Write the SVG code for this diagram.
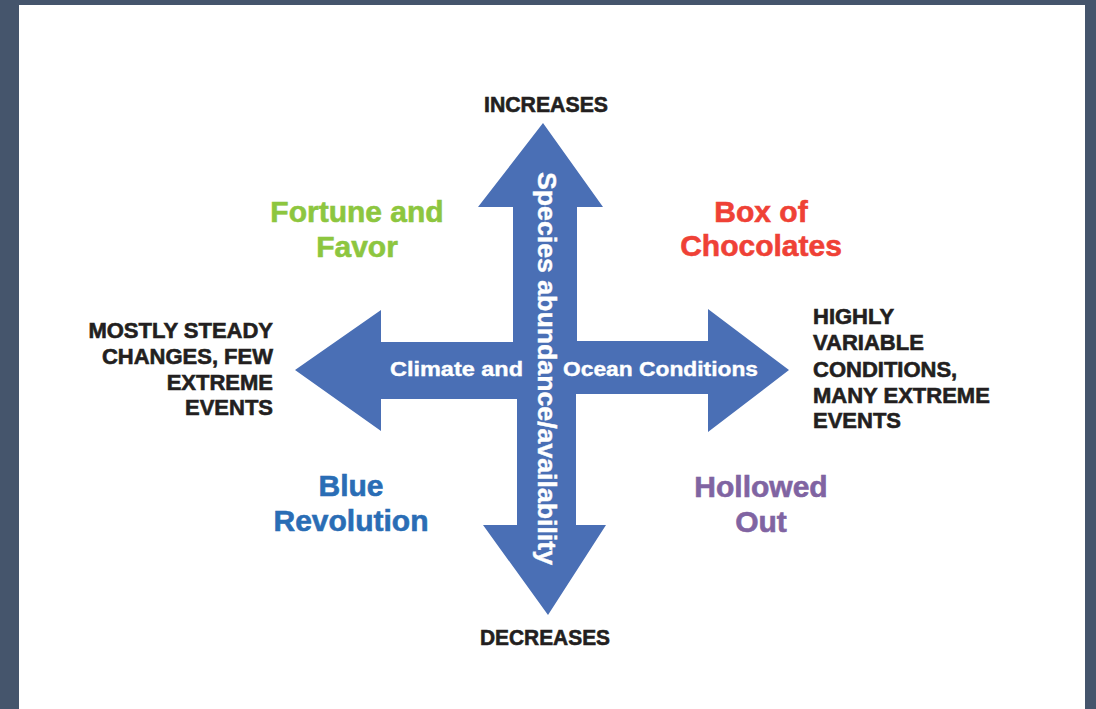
<svg xmlns="http://www.w3.org/2000/svg" width="1096" height="709" viewBox="0 0 1096 709">
<style>
.end{font-family:"Liberation Sans",Arial,sans-serif;font-weight:bold;font-size:22px;fill:#231f20;stroke:#231f20;stroke-width:0.6px}
.q{font-family:"Liberation Sans",Arial,sans-serif;font-weight:bold;font-size:30px;text-anchor:middle;stroke-width:0.6px}
.ax{font-family:"Liberation Sans",Arial,sans-serif;font-weight:bold;fill:#ffffff;stroke:#ffffff;stroke-width:0.4px}
</style>
<rect x="0" y="0" width="1096" height="709" fill="#45556c"/>
<rect x="19" y="5" width="1066" height="704" fill="#ffffff"/>
<g id="connectors">
<polygon fill="#4a6fb5" points="543,123 603,207 577,207 577,341 708,341 708,309 789,370 708,432 708,394 576,394 576,525 606,525 548,615 483,525 517,525 517,399 381,399 381,431 295,370 381,310 381,342 513,342 513,207 478,207"/>
</g>
<g id="axis-labels">
<text class="ax" x="390" y="376" font-size="21" textLength="133" lengthAdjust="spacingAndGlyphs">Climate and</text>
<text class="ax" x="563" y="376" font-size="21" textLength="195" lengthAdjust="spacingAndGlyphs">Ocean Conditions</text>
<text class="ax" transform="translate(538,172) rotate(90)" x="0" y="0" font-size="25" textLength="393" lengthAdjust="spacingAndGlyphs">Species abundance/availability</text>
</g>
<g id="increases"><text class="end" x="546" y="112" text-anchor="middle" textLength="124" lengthAdjust="spacingAndGlyphs">INCREASES</text></g>
<g id="decreases"><text class="end" x="545" y="645" text-anchor="middle" textLength="130" lengthAdjust="spacingAndGlyphs">DECREASES</text></g>
<g id="steady">
<text class="end" x="273" y="338" text-anchor="end">MOSTLY STEADY</text>
<text class="end" x="273" y="364" text-anchor="end">CHANGES, FEW</text>
<text class="end" x="273" y="390" text-anchor="end">EXTREME</text>
<text class="end" x="273" y="415" text-anchor="end">EVENTS</text>
</g>
<g id="variable">
<text class="end" x="813" y="324">HIGHLY</text>
<text class="end" x="813" y="350">VARIABLE</text>
<text class="end" x="813" y="377">CONDITIONS,</text>
<text class="end" x="813" y="403">MANY EXTREME</text>
<text class="end" x="813" y="428">EVENTS</text>
</g>
<g id="fortune-and-favor" fill="#8dc63f" stroke="#8dc63f">
<text class="q" x="357" y="222">Fortune and</text>
<text class="q" x="357" y="257">Favor</text>
</g>
<g id="box-of-chocolates" fill="#ef4136" stroke="#ef4136">
<text class="q" x="761" y="222">Box of</text>
<text class="q" x="761" y="256">Chocolates</text>
</g>
<g id="blue-revolution" fill="#2a6db5" stroke="#2a6db5">
<text class="q" x="351" y="496">Blue</text>
<text class="q" x="351" y="531">Revolution</text>
</g>
<g id="hollowed-out" fill="#8064a2" stroke="#8064a2">
<text class="q" x="761" y="497">Hollowed</text>
<text class="q" x="761" y="532">Out</text>
</g>
</svg>
